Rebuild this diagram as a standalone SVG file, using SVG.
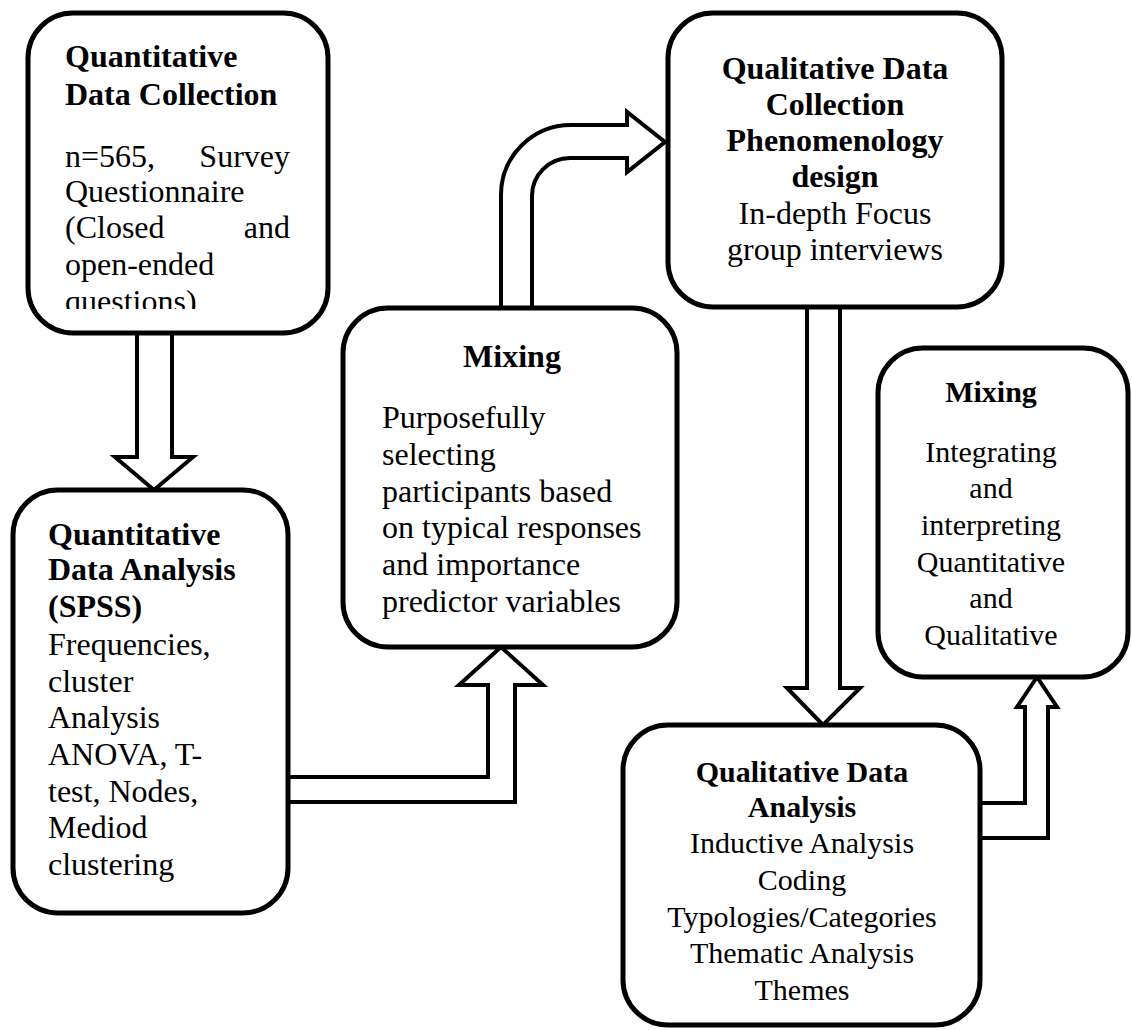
<svg xmlns="http://www.w3.org/2000/svg" width="1132" height="1030" viewBox="0 0 1132 1030">
  <defs>
    <style>
      .box { fill: #ffffff; stroke: #000000; stroke-width: 5; }
      .arrow { fill: #ffffff; stroke: #000000; stroke-width: 4; stroke-linejoin: miter; }
      text { font-family: "Liberation Serif", "Times New Roman", serif; fill: #000000; }
      .t32 { font-size: 32px; }
      .t30 { font-size: 30px; }
      .b { font-weight: bold; }
      .mid { text-anchor: middle; }
      .end { text-anchor: end; }
    </style>
    <clipPath id="clip-qdc">
      <rect x="30" y="15" width="296" height="294"/>
    </clipPath>
  </defs>

  <rect width="1132" height="1030" fill="#ffffff"/>

  <!-- block arrows between the stages -->
  <g id="connectors">
    <path class="arrow" d="M137,333 L137,457 L115,457 L154,490 L193,457 L172,457 L172,333"/>
    <path class="arrow" d="M288,777 L488,777 L488,685 L459,685 L501,647 L543,685 L515,685 L515,802 L288,802"/>
    <path class="arrow" d="M501,308 L501,195 A70,70 0 0 1 571,125 L627,125 L627,112 L665,142 L627,172 L627,158 L570,158 A38,38 0 0 0 532,196 L532,308"/>
    <path class="arrow" d="M807,307 L807,688 L787,688 L823,725 L860,688 L840,688 L840,307"/>
    <path class="arrow" d="M980,803 L1025,803 L1025,707 L1017,707 L1037,677 L1057,707 L1048,707 L1048,838 L980,838"/>
  </g>

  <g id="quant-collection">
    <rect class="box" x="28" y="13" width="300" height="320" rx="45"/>
    <g clip-path="url(#clip-qdc)">
      <text class="t32 b" x="65" y="67">Quantitative</text>
      <text class="t32 b" x="65" y="105">Data Collection</text>
      <text class="t32" x="65" y="167">n=565,</text>
      <text class="t32 end" x="290" y="167">Survey</text>
      <text class="t32" x="65" y="202">Questionnaire</text>
      <text class="t32" x="65" y="238">(Closed</text>
      <text class="t32 end" x="290" y="238">and</text>
      <text class="t32" x="65" y="275">open-ended</text>
      <text class="t32" x="65" y="312">questions)</text>
    </g>
  </g>

  <g id="quant-analysis">
    <rect class="box" x="13" y="490" width="275" height="423" rx="45"/>
    <text class="t32 b" x="48" y="545">Quantitative</text>
    <text class="t32 b" x="48" y="580">Data Analysis</text>
    <text class="t32 b" x="48" y="617">(SPSS)</text>
    <text class="t32" x="48" y="655">Frequencies,</text>
    <text class="t32" x="48" y="692">cluster</text>
    <text class="t32" x="48" y="728">Analysis</text>
    <text class="t32" x="48" y="765">ANOVA, T-</text>
    <text class="t32" x="48" y="802">test, Nodes,</text>
    <text class="t32" x="48" y="838">Mediod</text>
    <text class="t32" x="48" y="875">clustering</text>
  </g>

  <g id="mixing-selection">
    <rect class="box" x="343" y="308" width="334" height="339" rx="45"/>
    <text class="t32 b mid" x="512" y="367">Mixing</text>
    <text class="t32" x="382" y="428">Purposefully</text>
    <text class="t32" x="382" y="465">selecting</text>
    <text class="t32" x="382" y="502">participants based</text>
    <text class="t32" x="382" y="538">on typical responses</text>
    <text class="t32" x="382" y="575">and importance</text>
    <text class="t32" x="382" y="612">predictor variables</text>
  </g>

  <g id="qual-collection">
    <rect class="box" x="668" y="13" width="334" height="294" rx="45"/>
    <text class="t32 b mid" x="835" y="79">Qualitative Data</text>
    <text class="t32 b mid" x="835" y="115">Collection</text>
    <text class="t32 b mid" x="835" y="151">Phenomenology</text>
    <text class="t32 b mid" x="835" y="187">design</text>
    <text class="t32 mid" x="835" y="224">In-depth Focus</text>
    <text class="t32 mid" x="835" y="260">group interviews</text>
  </g>

  <g id="qual-analysis">
    <rect class="box" x="623" y="725" width="357" height="300" rx="45"/>
    <text class="t30 b mid" x="802" y="782">Qualitative Data</text>
    <text class="t30 b mid" x="802" y="817">Analysis</text>
    <text class="t30 mid" x="802" y="853">Inductive Analysis</text>
    <text class="t30 mid" x="802" y="890">Coding</text>
    <text class="t30 mid" x="802" y="927">Typologies/Categories</text>
    <text class="t30 mid" x="802" y="963">Thematic Analysis</text>
    <text class="t30 mid" x="802" y="1000">Themes</text>
  </g>

  <g id="mixing-integration">
    <rect class="box" x="878" y="348" width="250" height="329" rx="45"/>
    <text class="t30 b mid" x="991" y="402">Mixing</text>
    <text class="t30 mid" x="991" y="462">Integrating</text>
    <text class="t30 mid" x="991" y="498">and</text>
    <text class="t30 mid" x="991" y="535">interpreting</text>
    <text class="t30 mid" x="991" y="572">Quantitative</text>
    <text class="t30 mid" x="991" y="608">and</text>
    <text class="t30 mid" x="991" y="645">Qualitative</text>
  </g>
</svg>
